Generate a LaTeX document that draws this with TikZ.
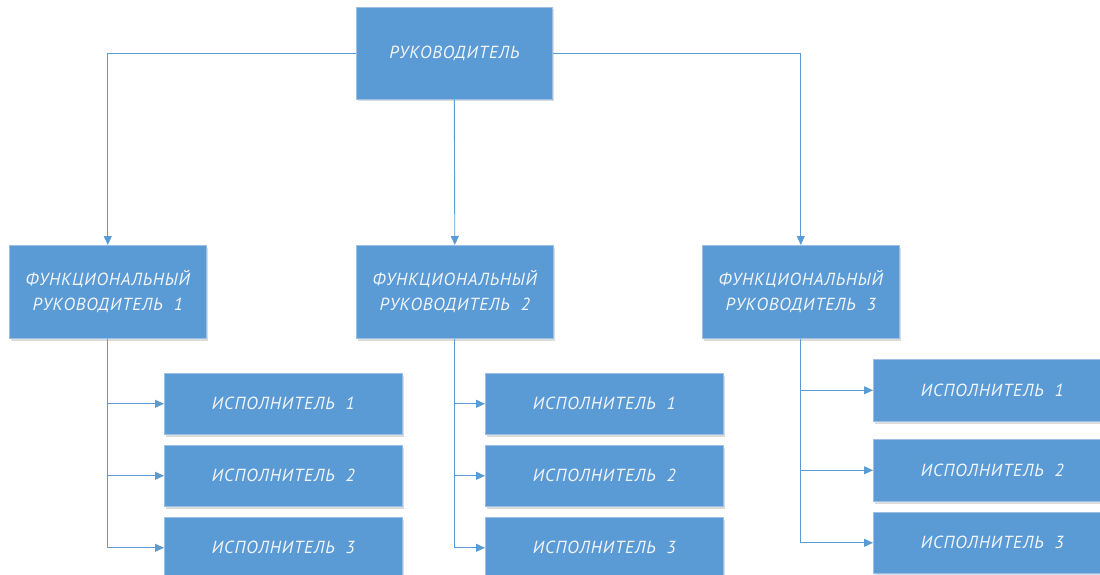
\documentclass[tikz,border=0pt]{standalone}
\usepackage{fontspec}
\setmainfont{PT Sans}[LetterSpace=5]
\usetikzlibrary{arrows.meta,shadows}
\definecolor{boxblue}{HTML}{5B9BD5}
\definecolor{boxedge}{HTML}{9DBFE4}
\definecolor{textwhite}{HTML}{F2F6FB}
\begin{document}
\begin{tikzpicture}[x=1pt,y=-1pt,
  box/.style={draw=boxedge, line width=0.6pt, fill=boxblue, text=textwhite,
    font=\itshape\fontsize{17.5}{25}\selectfont, align=center, inner sep=0pt,
    anchor=north west,
    drop shadow={shadow xshift=1.2pt, shadow yshift=-2.2pt, fill=black!45, opacity=0.3}},
  headbox/.style={box, minimum width=196pt, minimum height=92pt},
  funcbox/.style={box, minimum width=197pt, minimum height=93pt},
  execbox/.style={box, minimum width=238pt, minimum height=61pt},
  link/.style={draw=boxblue, line width=0.9pt},
  arr/.style={link, -{Triangle[length=9pt,width=8pt]}}]
\useasboundingbox (0,0) rectangle (1100,575);
\clip (0,0) rectangle (1100,575);

% head of the organisation
\node[headbox] (head) at (356,7) {РУКОВОДИТЕЛЬ};

% functional managers
\node[funcbox] (f1) at (9,245)   {ФУНКЦИОНАЛЬНЫЙ\\РУКОВОДИТЕЛЬ\ \ 1};
\node[funcbox] (f2) at (356,245) {ФУНКЦИОНАЛЬНЫЙ\\РУКОВОДИТЕЛЬ\ \ 2};
\node[funcbox] (f3) at (702,245) {ФУНКЦИОНАЛЬНЫЙ\\РУКОВОДИТЕЛЬ\ \ 3};

% executors, first column
\node[execbox] (e11) at (164,373) {ИСПОЛНИТЕЛЬ\ \ 1};
\node[execbox] (e12) at (164,445) {ИСПОЛНИТЕЛЬ\ \ 2};
\node[execbox] (e13) at (164,517) {ИСПОЛНИТЕЛЬ\ \ 3};

% executors, second column
\node[execbox] (e21) at (485,373) {ИСПОЛНИТЕЛЬ\ \ 1};
\node[execbox] (e22) at (485,445) {ИСПОЛНИТЕЛЬ\ \ 2};
\node[execbox] (e23) at (485,517) {ИСПОЛНИТЕЛЬ\ \ 3};

% executors, third column
\node[execbox, minimum height=62pt] (e31) at (873,359) {ИСПОЛНИТЕЛЬ\ \ 1};
\node[execbox, minimum height=62pt] (e32) at (873,439) {ИСПОЛНИТЕЛЬ\ \ 2};
\node[execbox] (e33) at (873,512) {ИСПОЛНИТЕЛЬ\ \ 3};

% head to functional managers
\draw[arr] (head.west) -| (f1.north);
\draw[arr] (head.south) -- (f2.north);
\draw[arr] (head.east) -| (f3.north);

% functional managers to executors
\draw[arr] (f1.south) |- (e11.west);
\draw[arr] (f1.south) |- (e12.west);
\draw[arr] (f1.south) |- (e13.west);

\draw[arr] (f2.south) |- (e21.west);
\draw[arr] (f2.south) |- (e22.west);
\draw[arr] (f2.south) |- (e23.west);

\draw[arr] (f3.south) |- (e31.west);
\draw[arr] (f3.south) |- (e32.west);
\draw[arr] (f3.south) |- (e33.west);
\end{tikzpicture}
\end{document}
